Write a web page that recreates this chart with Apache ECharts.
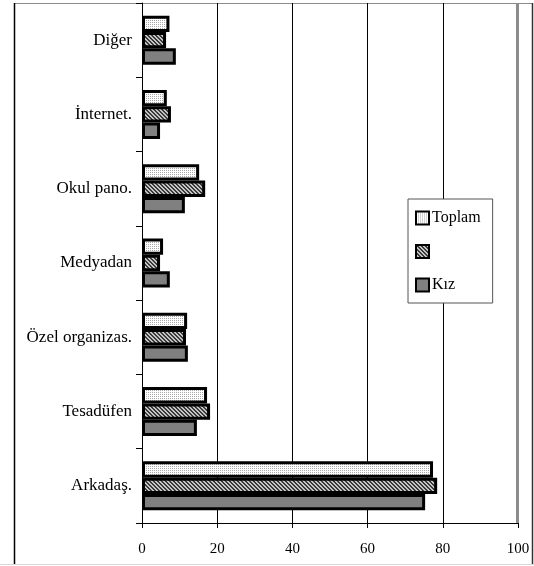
<!DOCTYPE html>
<html>
<head>
<meta charset="utf-8">
<script src="https://cdn.jsdelivr.net/npm/echarts@6/dist/echarts.min.js"></script>
<style>
  html, body { margin: 0; padding: 0; background: #fff; }
  #myChart { width: 534px; height: 566px; }
</style>
</head>
<body>
<div id="myChart"></div>
<script>
  // kategoriler alttan yukarı
  let categories = ['Arkadaş.', 'Tesadüfen', 'Özel organizas.', 'Medyadan', 'Okul pano.', 'İnternet.', 'Diğer'];
  let toplam = [77.4, 17.3, 12.0, 5.6, 15.2, 6.6, 7.3];
  let erkek = [78.5, 18.1, 11.7, 4.8, 16.8, 7.7, 6.4];
  let kiz = [75.3, 14.6, 12.2, 7.4, 11.4, 4.8, 9.0];
  let xTicks = [0, 20, 40, 60, 80, 100];

  // desenler
  function makePattern(draw) {
    let c = document.createElement('canvas');
    c.width = 4; c.height = 4;
    let ctx = c.getContext('2d');
    draw(ctx);
    return { image: c, repeat: 'repeat' };
  }
  let dotted = makePattern(function (ctx) {
    ctx.fillStyle = '#ffffff';
    ctx.fillRect(0, 0, 4, 4);
    ctx.fillStyle = '#a8a8a8';
    ctx.fillRect(0, 0, 1, 1);
    ctx.fillRect(2, 2, 1, 1);
    ctx.fillRect(2, 0, 1, 1);
    ctx.fillRect(0, 2, 1, 1);
  });
  let hatched = makePattern(function (ctx) {
    for (let x = 0; x < 4; x++) {
      for (let y = 0; y < 4; y++) {
        ctx.fillStyle = ((x - y + 8) % 4 < 2) ? '#3a3a3a' : '#c4c4c4';
        ctx.fillRect(x, y, 1, 1);
      }
    }
  });

  let font = 'Liberation Serif';
  let myChart = echarts.init(document.getElementById('myChart'));
  myChart.setOption({
    animation: false,
    backgroundColor: '#fff',
    grid: {
      left: 142,
      right: 16,
      top: 3,
      bottom: 43
    },
    legend: {
      orient: 'vertical',
      left: 408,
      top: 199,
      data: ['Toplam', ' ', 'Kız'],
      itemWidth: 13,
      itemHeight: 13,
      itemGap: 17.5,
      padding: [11, 12, 10, 7],
      backgroundColor: '#fff',
      borderColor: '#555',
      borderWidth: 1,
      borderRadius: 0,
      icon: 'rect',
      itemStyle: { borderColor: '#000', borderWidth: 2 },
      textStyle: { fontFamily: font, fontSize: 16, lineHeight: 14, color: '#000', padding: [0, 0, 0, -2] }
    },
    xAxis: {
      type: 'value',
      min: 0,
      max: 100,
      interval: 20,
      axisLine: { show: true, lineStyle: { color: '#000', width: 1 } },
      axisTick: { show: true, length: 5, lineStyle: { color: '#000' } },
      axisLabel: {
        fontFamily: font, fontSize: 15, color: '#000', margin: 19,
        formatter: function (v) { return xTicks.indexOf(v) >= 0 ? String(v) : ''; }
      },
      splitLine: {
        show: true,
        lineStyle: { color: ['#000', '#000', '#000', '#000', '#000', '#8c8c8c'], width: 1 }
      }
    },
    yAxis: {
      type: 'category',
      data: categories,
      axisLine: { show: true, lineStyle: { color: '#000', width: 1 } },
      axisTick: { show: true, length: 6, lineStyle: { color: '#000' } },
      axisLabel: { fontFamily: font, fontSize: 17, color: '#000', margin: 10 },
      splitLine: { show: false }
    },
    series: [
      {
        name: 'Toplam',
        type: 'bar',
        data: toplam,
        barGap: '0%',
        barCategoryGap: '34%',
        itemStyle: { color: dotted, borderColor: '#000', borderWidth: 3 }
      },
      {
        name: ' ',
        type: 'bar',
        data: erkek,
        itemStyle: { color: hatched, borderColor: '#000', borderWidth: 3 }
      },
      {
        name: 'Kız',
        type: 'bar',
        data: kiz,
        itemStyle: { color: '#808080', borderColor: '#000', borderWidth: 3 }
      }
    ],
    graphic: [
      // 100 çizgisi (kalın gri)
      { type: 'line', shape: { x1: 517.5, y1: 3, x2: 517.5, y2: 523 }, style: { stroke: '#8c8c8c', lineWidth: 3 }, z: 1 },
      // dış çerçeve
      { type: 'line', shape: { x1: 14, y1: 3.5, x2: 532, y2: 3.5 }, style: { stroke: '#8c8c8c', lineWidth: 1 } },
      { type: 'line', shape: { x1: 14.5, y1: 3, x2: 14.5, y2: 564 }, style: { stroke: '#000', lineWidth: 1.5 } },
      { type: 'line', shape: { x1: 532.5, y1: 3, x2: 532.5, y2: 564 }, style: { stroke: '#333', lineWidth: 1.5 } },
      { type: 'line', shape: { x1: 0, y1: 564.5, x2: 534, y2: 564.5 }, style: { stroke: '#d8d8d8', lineWidth: 1 } }
    ]
  });
</script>
</body>
</html>
